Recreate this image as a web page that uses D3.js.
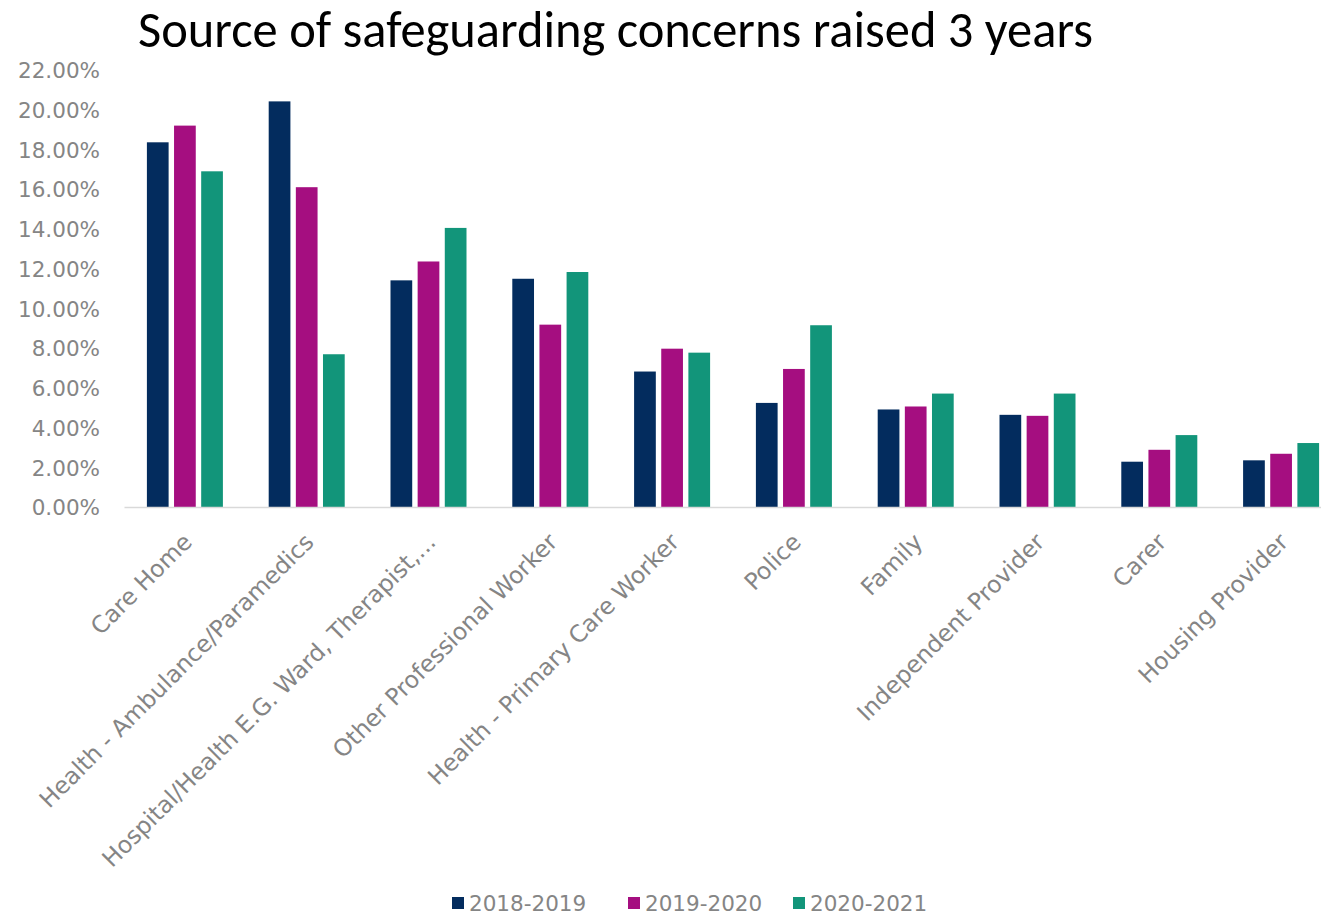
<!DOCTYPE html>
<html>
<head>
<meta charset="utf-8">
<script src="https://cdn.jsdelivr.net/npm/d3@7"></script>
<style>
  html, body { margin: 0; padding: 0; background: #ffffff; }
  svg { display: block; }
</style>
</head>
<body>
<svg id="chart" width="1321" height="916"></svg>
<script>
const title = "Source of safeguarding concerns raised 3 years";
const categories = [
  "Care Home",
  "Health - Ambulance/Paramedics",
  "Hospital/Health E.G. Ward, Therapist,...",
  "Other Professional Worker",
  "Health - Primary Care Worker",
  "Police",
  "Family",
  "Independent Provider",
  "Carer",
  "Housing Provider"
];
const seriesNames = ["2018-2019", "2019-2020", "2020-2021"];
const values2018 = [18.36, 20.42, 11.41, 11.49, 6.82, 5.24, 4.91, 4.64, 2.28, 2.35];
const values2019 = [19.20, 16.10, 12.36, 9.18, 7.97, 6.95, 5.06, 4.59, 2.88, 2.68];
const values2020 = [16.90, 7.69, 14.05, 11.83, 7.77, 9.15, 5.71, 5.71, 3.62, 3.22];
const yTicks = [0, 2, 4, 6, 8, 10, 12, 14, 16, 18, 20, 22];
const colors = ["#032c5e", "#a50e80", "#12957a"];

const seriesValues = [values2018, values2019, values2020];
const svg = d3.select("#chart");
const labelFont = "'Century Gothic', 'URW Gothic', 'DejaVu Sans', sans-serif";
const labelColor = "#858585";
const labelSize = 21.5;
const catLabelSize = 23.5;

const y = d3.scaleLinear().domain([0, 22]).range([507, 70]);
const x0 = d3.scaleBand().domain(categories).range([124, 1342]).paddingInner(0.376).paddingOuter(0.188);
const x1 = d3.scaleBand().domain(seriesNames).range([0, x0.bandwidth()]).paddingInner(0.2);

// Title
const t = svg.append("text")
  .attr("x", 138).attr("y", 46.5)
  .attr("font-family", "'Calibri', 'Carlito', 'Open Sans', sans-serif")
  .attr("font-size", 40)
  .attr("fill", "#000")
  .text(title);
const tw = t.node().getComputedTextLength();
t.attr("font-size", 40 * 955 / tw);

// Y axis (labels only)
const yAxis = d3.axisLeft(y).tickValues(yTicks).tickSize(0).tickPadding(0)
  .tickFormat(d => d.toFixed(2) + "%");
const gy = svg.append("g").attr("transform", "translate(100,0)").call(yAxis);
gy.select(".domain").remove();
gy.selectAll("text")
  .attr("font-family", labelFont)
  .attr("font-size", labelSize)
  .attr("fill", labelColor)
  .attr("dy", "0.36em");

// Bars
const groups = svg.append("g").selectAll("g")
  .data(categories)
  .join("g")
  .attr("transform", d => `translate(${x0(d)},0)`);
groups.selectAll("rect")
  .data((d, i) => seriesNames.map((s, j) => ({ s, v: seriesValues[j][i], c: colors[j] })))
  .join("rect")
  .attr("x", d => x1(d.s))
  .attr("width", x1.bandwidth())
  .attr("y", d => y(d.v))
  .attr("height", d => y(0) - y(d.v))
  .attr("fill", d => d.c);

// X axis
const xAxis = d3.axisBottom(x0).tickSize(0).tickPadding(0);
const gx = svg.append("g").attr("transform", `translate(0,${y(0)})`).call(xAxis);
gx.select(".domain").attr("stroke", "#d9d9d9").attr("stroke-width", 1.5);
gx.selectAll("text")
  .attr("font-family", labelFont)
  .attr("font-size", catLabelSize)
  .attr("fill", labelColor)
  .attr("text-anchor", "end")
  .attr("transform", "translate(-4,24) rotate(-45)")
  .attr("dy", "0.75em")
  .attr("y", 0);

// Legend
const legendX = [452, 628, 793];
const legend = svg.append("g");
seriesNames.forEach((s, i) => {
  legend.append("rect").attr("x", legendX[i]).attr("y", 897).attr("width", 12).attr("height", 12).attr("fill", colors[i]);
  legend.append("text").attr("x", legendX[i] + 17).attr("y", 903).attr("dy", "0.36em")
    .attr("font-family", labelFont).attr("font-size", labelSize).attr("fill", labelColor).text(s);
});
</script>
</body>
</html>
